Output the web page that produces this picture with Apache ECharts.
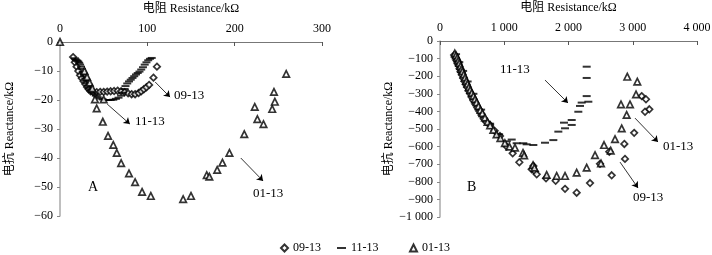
<!DOCTYPE html>
<html>
<head>
<meta charset="utf-8">
<script src="https://cdn.jsdelivr.net/npm/echarts@6/dist/echarts.min.js"></script>
<style>
  html, body { margin: 0; padding: 0; background: #fff; }
  #chart { width: 712px; height: 255px; }
</style>
</head>
<body>
<div id="chart"></div>
<script>
// ---- 图A (kΩ) ----
const seriesNames = ['09-13', '11-13', '01-13'];

const a0913 = [
  [15,-5.2],[17,-7],[19,-8.5],[21,-10],[23,-11.5],[25,-12.5],[27,-13.5],[29,-14.5],[31,-15.5],[33,-16.3],
  [35,-17],[38,-17.3],[42,-17.3],[46,-17.2],[50,-17.2],[54,-17.1],[58,-17],[62,-16.9],[66,-16.8],[70,-17],
  [74,-17.3],[78,-17.7],[82,-18],[86,-18],[90,-17.6],[93,-17],[96,-16.3],[99,-15.6],[102,-14.8],[107,-12.3],[111,-8.5]
];
const a1113 = [
  [17,-5.6],[18,-6],[19,-6.3],[20,-6.5],[21,-6.8],[22,-7.2],[23,-7.8],[24,-8.5],[25,-9.3],[26,-10.2],
  [27,-11],[28,-11.8],[29,-12.6],[30,-13.4],[31,-14.2],[32,-15],[33,-15.8],[35,-16.5],[37,-17.2],[39,-17.8],
  [41,-18.5],[43,-19],[46,-19.5],[49,-19.8],[52,-20],[55,-20],[58,-20],[61,-19.9],[64,-19.6],[67,-19.2],
  [70,-18.5],[72,-17.5],[74,-16.2],[75,-15.2],[77,-14.3],[79,-13.6],[81,-13],[83,-12.4],[85,-11.8],[87,-11.2],
  [89,-10.7],[91,-10.2],[93,-9.5],[95,-8.7],[97,-7.8],[99,-7],[101,-6.3],[103,-5.8],[105,-5.5]
];
const a0113 = [
  [0,0],[28,-10],[31,-12],[34,-14],[37,-16],[40,-19.8],[42,-22.9],[50,-19.8],[49,-27.5],[55,-32.4],
  [61,-35.5],[65,-38.2],[70,-41.8],[79,-45.3],[86,-48.3],[94,-51.7],[104,-53.1],[141,-54.2],[150,-53.1],
  [168,-45.9],[171,-46.4],[180,-44.1],[186,-41.6],[194,-38.2],[211,-31.8],[223,-22.4],[226,-26.6],[233,-28.3],
  [243,-23.1],[245,-17.2],[246,-20.6],[259,-11]
];

// ---- 图B (kΩ) ----
const b0913 = [
  [220,-80],[240,-95],[255,-110],[270,-125],[290,-140],[305,-158],[320,-175],[340,-192],[360,-210],[380,-228],
  [400,-246],[420,-262],[445,-282],[470,-300],[495,-320],[520,-338],[550,-358],[580,-378],[610,-398],[645,-420],
  [680,-442],[720,-460],[778,-477],[850,-510],[934,-540],[1038,-600],[1131,-638],[1235,-689],[1427,-729],[1453,-710],
  [1479,-742],[1505,-757],[1650,-780],[1800,-794],[1946,-840],[2127,-862],[2335,-807],[2490,-698],[2635,-629],[2672,-763],
  [2869,-585],[2879,-670],[3022,-522],[3139,-313],[3206,-331],[3258,-388],[3191,-402]
];
const b1113 = [
  [250,-75],[300,-120],[360,-170],[430,-230],[520,-300],[640,-390],[780,-470],[920,-530],[1040,-570],[1116,-560],
  [1193,-581],[1297,-581],[1349,-587],[1453,-591],[1634,-578],[1764,-563],[1842,-515],[1946,-496],[1930,-464],[2050,-449],
  [2050,-477],[2153,-402],[2179,-369],[2205,-350],[2309,-345],[2283,-313],[2283,-210],[2283,-146]
];
const b0113 = [
  [230,-70],[250,-82],[270,-95],[285,-110],[300,-125],[320,-142],[335,-158],[350,-172],[370,-190],[390,-208],
  [410,-226],[430,-243],[450,-262],[470,-278],[495,-295],[520,-312],[545,-330],[570,-348],[600,-370],[630,-392],
  [660,-410],[700,-435],[740,-460],[780,-480],[830,-505],[880,-530],[940,-552],[1010,-580],[1080,-600],[1167,-606],
  [1292,-636],[1310,-650],[1448,-705],[1470,-720],[1660,-761],[1816,-767],[1946,-767],[2127,-748],[2283,-720],[2413,-648],
  [2506,-695],[2553,-591],[2657,-623],[2724,-557],[2828,-496],[2905,-420],[2817,-360],[2957,-360],[3051,-303],[2915,-203],[3071,-231]
];

const FONT = "'Liberation Serif', 'Noto Sans CJK SC', serif";

function fmt(v) {
  const s = Math.abs(v).toString().replace(/\B(?=(\d{3})+(?!\d))/g, ' ');
  return (v < 0 ? '\u2212' : '') + s;
}

const symbols = {
  '09-13': { symbol: 'diamond', symbolSize: 6.5 },
  '11-13': { symbol: 'rect', symbolSize: [8, 2] },
  '01-13': { symbol: 'triangle', symbolSize: 6.5 }
};

function itemStyleOf(name) {
  if (name === '11-13') return { color: '#000' };
  return { color: '#fff', borderColor: '#000', borderWidth: 1.7 };
}

function arrow(from, to) {
  return [{ coord: from }, { coord: to }];
}

function scatter(name, data, idx, arrows) {
  const s = {
    name: name,
    type: 'scatter',
    xAxisIndex: idx,
    yAxisIndex: idx,
    symbol: symbols[name].symbol,
    symbolSize: symbols[name].symbolSize,
    itemStyle: itemStyleOf(name),
    data: data
  };
  if (arrows) {
    s.markLine = {
      silent: true,
      symbol: ['none', 'arrow'],
      symbolSize: 6,
      label: { show: false },
      lineStyle: { color: '#000', width: 0.8, type: 'solid' },
      emphasis: { disabled: true },
      data: arrows
    };
  }
  return s;
}

function xAxisOf(idx, max, interval) {
  return {
    gridIndex: idx,
    type: 'value',
    position: 'top',
    min: 0,
    max: max,
    interval: interval,
    name: '电阻 Resistance/kΩ',
    nameLocation: 'middle',
    nameGap: 27,
    nameTextStyle: { fontFamily: FONT, fontSize: 12, color: '#000' },
    axisLine: { onZero: false, lineStyle: { color: '#777', width: 1 } },
    axisTick: { inside: true, length: 4, lineStyle: { color: '#555' } },
    axisLabel: { fontFamily: FONT, fontSize: 12, color: '#000', margin: 7, formatter: fmt },
    splitLine: { show: false }
  };
}

function yAxisOf(idx, min, interval, gap) {
  return {
    gridIndex: idx,
    type: 'value',
    min: min,
    max: 0,
    interval: interval,
    name: '电抗 Reactance/kΩ',
    nameLocation: 'middle',
    nameRotate: 90,
    nameGap: gap,
    nameTextStyle: { fontFamily: FONT, fontSize: 12, color: '#000' },
    axisLine: { onZero: false, lineStyle: { color: '#aaa', width: 1.5 } },
    axisTick: { length: 3, lineStyle: { color: '#888' } },
    axisLabel: { fontFamily: FONT, fontSize: 12, color: '#000', margin: 7, formatter: fmt },
    splitLine: { show: false }
  };
}

function legendOf(name, left, w, h) {
  return {
    data: [name],
    left: left,
    top: 237,
    itemWidth: w,
    itemHeight: h,
    itemGap: 6,
    selectedMode: false,
    textStyle: { fontFamily: FONT, fontSize: 12, color: '#000' }
  };
}

function txt(text, x, y, size) {
  return {
    type: 'text',
    left: x,
    top: y,
    style: { text: text, font: (size || 13) + "px 'Liberation Serif', serif", fill: '#000' }
  };
}

const option = {
  animation: false,
  backgroundColor: '#fff',
  grid: [
    { left: 60, top: 42, width: 262, height: 174, outerBoundsMode: 'none' },
    { left: 440, top: 41, width: 257, height: 176, outerBoundsMode: 'none' }
  ],
  xAxis: [xAxisOf(0, 300, 100), xAxisOf(1, 4000, 1000)],
  yAxis: [yAxisOf(0, -60, 10, 44), yAxisOf(1, -1000, 100, 36)],
  legend: [
    legendOf('09-13', 275, 7, 7),
    legendOf('11-13', 332, 9, 2),
    legendOf('01-13', 404, 7, 7)
  ],
  series: [
    scatter('09-13', a0913, 0, [arrow([109, -13.8], [126, -19])]),
    scatter('11-13', a1113, 0, [arrow([54, -21.4], [80, -28.3])]),
    scatter('01-13', a0113, 0, [arrow([207, -40], [232.5, -47.9])]),
    scatter('09-13', b0913, 1, [arrow([2802, -688], [3082, -835])]),
    scatter('11-13', b1113, 1, [arrow([1634, -222], [1992, -352])]),
    scatter('01-13', b0113, 1, [arrow([3035, -438], [3393, -574])])
  ],
  graphic: [
    txt('09-13', 174, 89),
    txt('11-13', 135, 115),
    txt('01-13', 253, 187),
    txt('A', 88, 180, 14),
    txt('11-13', 500, 63),
    txt('01-13', 663, 140),
    txt('09-13', 633, 191),
    txt('B', 467, 180, 14)
  ]
};

const chart = echarts.init(document.getElementById('chart'));
chart.setOption(option);
</script>
</body>
</html>
